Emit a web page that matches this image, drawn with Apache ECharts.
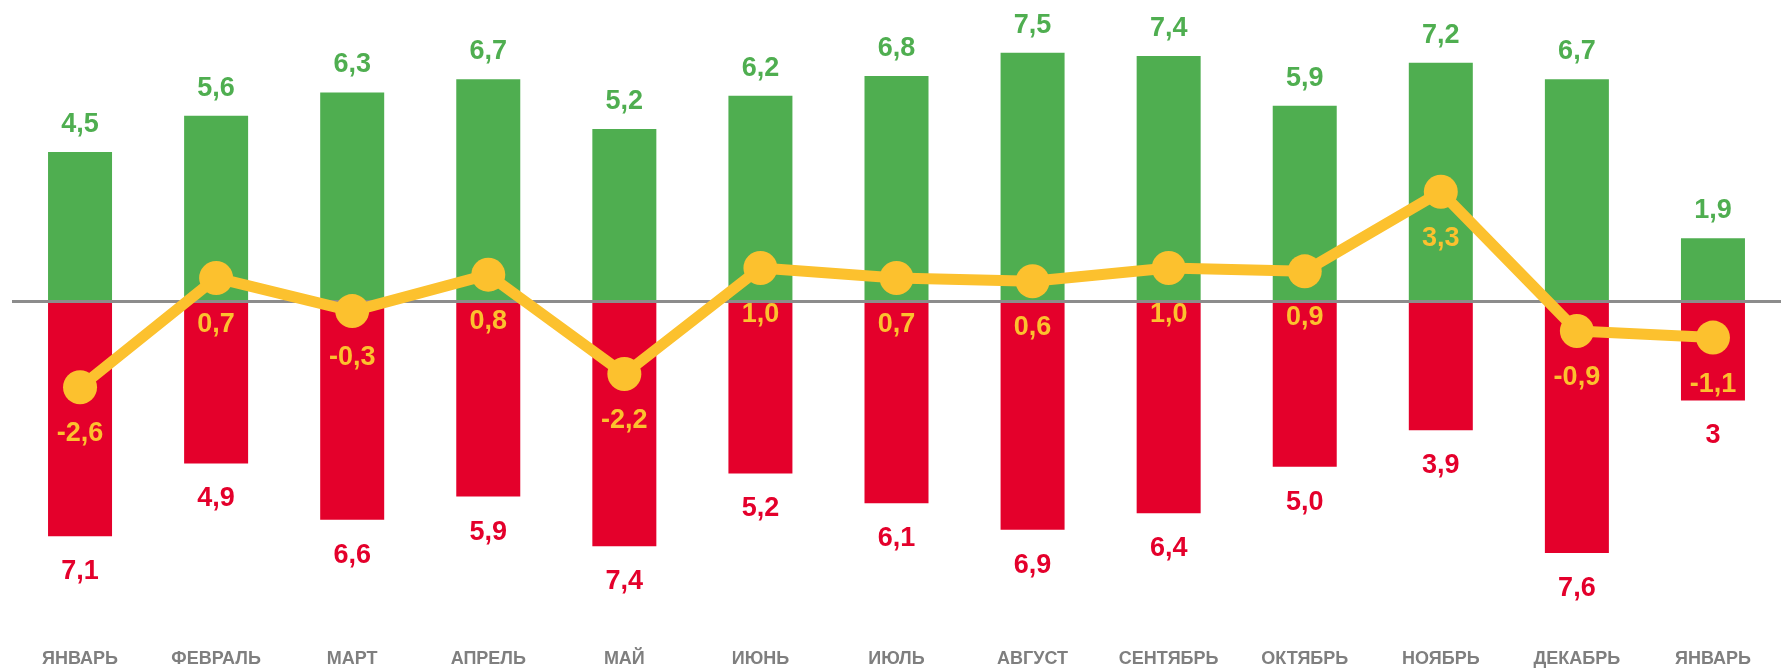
<!DOCTYPE html>
<html>
<head>
<meta charset="utf-8">
<script src="https://cdn.jsdelivr.net/npm/echarts@6/dist/echarts.min.js"></script>
<style>
html,body{margin:0;padding:0;background:#fff;}
#chart{width:1781px;height:668px;}
</style>
</head>
<body>
<div id="chart"></div>
<script>
var categories = ['ЯНВАРЬ','ФЕВРАЛЬ','МАРТ','АПРЕЛЬ','МАЙ','ИЮНЬ','ИЮЛЬ','АВГУСТ','СЕНТЯБРЬ','ОКТЯБРЬ','НОЯБРЬ','ДЕКАБРЬ','ЯНВАРЬ'];
var greenValues = [4.5, 5.6, 6.3, 6.7, 5.2, 6.2, 6.8, 7.5, 7.4, 5.9, 7.2, 6.7, 1.9];
var redValues = ['7.1','4.9','6.6','5.9','7.4','5.2','6.1','6.9','6.4','5.0','3.9','7.6','3'];
var lineValues = [-2.6, 0.7, -0.3, 0.8, -2.2, 1.0, 0.7, 0.6, 1.0, 0.9, 3.3, -0.9, -1.1];

var GREEN = '#4fae50', RED = '#e4002b', YELLOW = '#fcc12e';
var NUMFONT = 'Liberation Sans, Arial, sans-serif';
function fmt(v){ return v.toFixed(1).replace('.', ','); }

var chart = echarts.init(document.getElementById('chart'));
chart.setOption({
  animation: false,
  backgroundColor: '#ffffff',
  grid: { left: 12, top: 3, width: 1780, height: 650, containLabel: false },
  xAxis: {
    type: 'category',
    data: categories,
    axisLine: { show: false },
    axisTick: { show: false },
    axisLabel: {
      margin: 1,
      color: '#7f7f7f',
      fontFamily: 'Liberation Sans Narrow, Arial Narrow, Liberation Sans, sans-serif',
      fontWeight: 'bold',
      fontSize: 18
    }
  },
  yAxis: {
    type: 'value',
    min: -10.5,
    max: 9,
    show: false,
    splitLine: { show: false }
  },
  series: [
    {
      type: 'bar',
      stack: 'a',
      data: greenValues,
      barWidth: 64,
      itemStyle: { color: GREEN },
      z: 2,
      label: {
        show: true,
        position: 'top',
        distance: 14,
        color: GREEN,
        fontFamily: NUMFONT,
        fontWeight: 'bold',
        fontSize: 27,
        formatter: function(p){ return fmt(p.value); }
      }
    },
    {
      type: 'bar',
      stack: 'a',
      data: redValues.map(function(s){ return -parseFloat(s); }),
      barWidth: 64,
      itemStyle: { color: RED },
      z: 2,
      label: {
        show: true,
        position: 'bottom',
        distance: 22,
        color: RED,
        fontFamily: NUMFONT,
        fontWeight: 'bold',
        fontSize: 27,
        formatter: function(p){ return redValues[p.dataIndex].replace('.', ','); }
      },
      markLine: {
        silent: true,
        symbol: ['none','none'],
        label: { show: false },
        lineStyle: { color: '#8c8c8c', width: 3, type: 'solid' },
        data: [{ yAxis: 0 }]
      }
    },
    {
      type: 'line',
      data: lineValues,
      z: 5,
      symbol: 'circle',
      symbolSize: 34,
      lineStyle: { color: YELLOW, width: 11 },
      itemStyle: { color: YELLOW },
      label: {
        show: true,
        position: 'bottom',
        distance: 16,
        color: YELLOW,
        fontFamily: NUMFONT,
        fontWeight: 'bold',
        fontSize: 27,
        formatter: function(p){ return fmt(p.value); }
      }
    }
  ]
});
</script>
</body>
</html>
